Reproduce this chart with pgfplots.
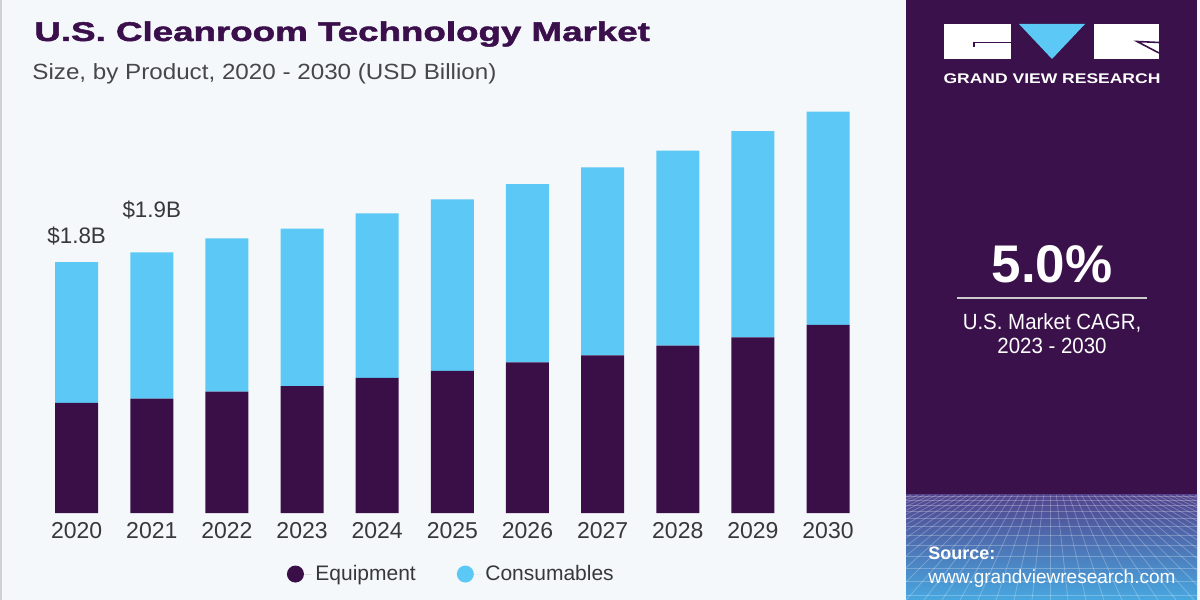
\documentclass[border=0pt]{standalone}
\usepackage{pgfplots}
\pgfplotsset{compat=1.18}
\usepackage{graphicx}
\usepackage{fontspec}
\setmainfont{Liberation Sans}
\newfontfamily\heavyfont{Liberation Sans Bold}[FakeBold=1.6]
\definecolor{bgc}{RGB}{244,248,251}
\definecolor{eqc}{RGB}{58,15,72}
\definecolor{conc}{RGB}{92,200,245}
\definecolor{panelc}{RGB}{58,17,74}
\definecolor{titlec}{RGB}{58,15,75}
\definecolor{txtc}{RGB}{55,55,60}
\definecolor{subc}{RGB}{70,70,75}
\definecolor{gridtop}{RGB}{82,68,142}
\definecolor{gridbot}{RGB}{72,168,224}
\begin{document}
\begin{tikzpicture}
\begin{scope}[x=0.5pt,y=0.5pt]
% backgrounds
\fill[bgc] (0,0) rectangle (1200,600);
\fill[black!18] (0,0) rectangle (2,600);
\fill[panelc] (906,0) rectangle (1197,600);
\shade[top color=gridtop, bottom color=gridbot] (906,0) rectangle (1197,105);
\begin{scope}
\clip (906,0) rectangle (1197,105);
\foreach \yy in {104,100,95,89,82,74,65,55,44,32,19,5}
  \draw[white, opacity=0.25, line width=0.4pt] (906,\yy) -- (1197,\yy);
\foreach \xx in {600,618,...,1500}
  \draw[white, opacity=0.25, line width=0.4pt] (\xx,0) -- ({1050+(\xx-1050)*0.35},105);
\end{scope}
% logo
\fill[white] (944,541) rectangle (1011,576);
\fill[conc] (1019,576) -- (1085,576) -- (1052,541) -- cycle;
\fill[white] (1094,541) rectangle (1159,576);
\draw[panelc, line width=0.8pt] (1011,557.3) -- (974,557.3) -- (974,553.3);
\draw[panelc, line width=0.8pt] (1159,557.5) -- (1137,558.5) -- (1159,547);
\node[anchor=base, inner sep=0, text=white, font=\fontsize{7}{8}\bfseries\selectfont] at (1052,516) {\scalebox{1.25}[1]{GRAND VIEW RESEARCH}};
% CAGR
\node[anchor=base, inner sep=0, text=white, font=\fontsize{26.5}{30}\bfseries\selectfont] at (1052,317) {5.0\%};
\draw[black!20, line width=1pt] (957,302) -- (1147,302);
\node[anchor=base, inner sep=0, text=white, font=\fontsize{11}{13}\selectfont] at (1052,270) {\scalebox{0.93}[1]{U.S. Market CAGR,}};
\node[anchor=base, inner sep=0, text=white, font=\fontsize{11}{13}\selectfont] at (1052,246) {\scalebox{0.93}[1]{2023 - 2030}};
% source
\node[anchor=base west, inner sep=0, text=white, font=\fontsize{9}{11}\bfseries\selectfont] at (928,40.7) {Source:};
\node[anchor=base west, inner sep=0, text=white, font=\fontsize{9.5}{11}\selectfont] at (928,16.7) {www.grandviewresearch.com};
% titles
\node[anchor=base west, inner sep=0, text=titlec, font=\fontsize{13.5}{16}\heavyfont\selectfont] at (34,559) {\scalebox{1.36}[1]{U.S. Cleanroom Technology Market}};
\node[anchor=base west, inner sep=0, text=subc, font=\fontsize{11}{13}\selectfont] at (32,520) {\scalebox{1.1}[1]{Size, by Product, 2020 - 2030 (USD Billion)}};
\end{scope}
% chart
\begin{axis}[
  at={(19.55pt,43.5pt)}, anchor=south west,
  scale only axis, width=413.25pt, height=209.1pt,
  ybar stacked, bar width=21.5pt,
  xmin=-0.5, xmax=10.5, ymin=0, ymax=3,
  axis line style={draw=none},
  major tick length=0pt,
  ytick=\empty,
  xtick={0,1,2,3,4,5,6,7,8,9,10},
  xticklabels={2020,2021,2022,2023,2024,2025,2026,2027,2028,2029,2030},
  xticklabel style={font=\fontsize{11.5}{13}\selectfont, text=txtc, inner sep=0pt, anchor=north, yshift=-4.3pt},
  clip=false,
  legend columns=2,
  legend style={at={(0.5,-0.146)}, anchor=center, draw=none, fill=none,
    font=\fontsize{10.5}{12}\selectfont, text=txtc,
    /tikz/every even column/.append style={column sep=18.5pt}},
]
\addplot[fill=eqc, draw=none, legend image code/.code={\fill[eqc] (0pt,0pt) circle (4.25pt); \path (0pt,0pt) -- (8pt,0pt);}]
  coordinates {(0,0.79) (1,0.82) (2,0.87) (3,0.91) (4,0.97) (5,1.02) (6,1.08) (7,1.13) (8,1.20) (9,1.26) (10,1.35)};
\addlegendentry{Equipment}
\addplot[fill=conc, draw=none, legend image code/.code={\fill[conc] (0pt,0pt) circle (4.25pt); \path (0pt,0pt) -- (8pt,0pt);}]
  coordinates {(0,1.01) (1,1.05) (2,1.10) (3,1.13) (4,1.18) (5,1.23) (6,1.28) (7,1.35) (8,1.40) (9,1.48) (10,1.53)};
\addlegendentry{Consumables}
\node[anchor=base, inner sep=0, text=txtc, font=\fontsize{11.2}{13}\selectfont] at (axis cs:0,1.935) {\$1.8B};
\node[anchor=base, inner sep=0, text=txtc, font=\fontsize{11.2}{13}\selectfont] at (axis cs:1,2.121) {\$1.9B};
\end{axis}
\pgfresetboundingbox
\path (0,0) rectangle (600pt,300pt);
\end{tikzpicture}
\end{document}
